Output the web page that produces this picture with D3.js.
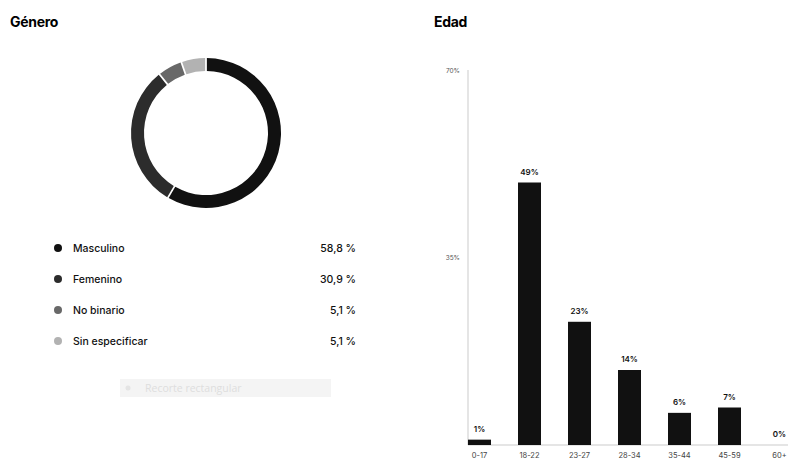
<!DOCTYPE html>
<html>
<head>
<meta charset="utf-8">
<script src="https://cdn.jsdelivr.net/npm/d3@7"></script>
<style>
  body { margin: 0; background: white; }
  text { font-family: Inter, "DejaVu Sans", sans-serif; }
</style>
</head>
<body>
<div id="chart"></div>
<script>
// Data
var genero_labels = ["Masculino", "Femenino", "No binario", "Sin especificar"]
var genero_values = [58.8, 30.9, 5.1, 5.1]
var genero_text = ["58,8 %", "30,9 %", "5,1 %", "5,1 %"]
var genero_colors = ["#111111", "#2c2c2c", "#686868", "#b2b2b2"]

var edad_labels = ["0-17", "18-22", "23-27", "28-34", "35-44", "45-59", "60+"]
var edad_values = [1, 49, 23, 14, 6, 7, 0]
var edad_ticks = [35, 70]

var width = 788
var height = 460

var svg = d3.select('#chart')
  .append('svg')
  .attr('width', width)
  .attr('height', height)
  .style("background-color", "white")

// Titles
svg.append("text")
  .attr("x", 10).attr("y", 27)
  .style("font-size", "14px")
  .style("font-weight", "bold")
  .style("letter-spacing", "-0.3px")
  .text("Género")

svg.append("text")
  .attr("x", 434).attr("y", 27)
  .style("font-size", "14px")
  .style("font-weight", "bold")
  .style("letter-spacing", "-0.3px")
  .text("Edad")

// Donut
var pie = d3.pie().sort(null).padAngle(0.018)
var arc = d3.arc().innerRadius(62).outerRadius(75)

var donut = svg.append("g")
  .attr("transform", "translate(206,133)")

donut.selectAll("path")
  .data(pie(genero_values))
  .enter()
  .append("path")
  .attr("d", arc)
  .style("fill", function (d, i) { return genero_colors[i] })

// Legend
var y_legend = d3.scalePoint()
  .domain(genero_labels)
  .range([248, 341])

var legend = svg.selectAll(".legend")
  .data(genero_labels)
  .enter().append("g")
  .attr("transform", function (d) { return "translate(0," + y_legend(d) + ")" })

legend.append("circle")
  .attr("cx", 58).attr("cy", 0).attr("r", 4)
  .style("fill", function (d, i) { return genero_colors[i] })

legend.append("text")
  .attr("x", 73).attr("dy", "0.35em")
  .style("font-size", "10.5px")
  .style("font-weight", "500")
  .style("fill", "#111")
  .text(function (d) { return d })

legend.append("text")
  .attr("x", 356).attr("dy", "0.35em")
  .style("text-anchor", "end")
  .style("font-size", "10.5px")
  .style("font-weight", "500")
  .style("fill", "#111")
  .text(function (d, i) { return genero_text[i] })

// Faded "Recorte rectangular" box
svg.append("rect")
  .attr("x", 120).attr("y", 379)
  .attr("width", 211).attr("height", 18)
  .style("fill", "#f4f4f4")
svg.append("circle")
  .attr("cx", 128).attr("cy", 388).attr("r", 2.5)
  .style("fill", "#e4e4e4")
svg.append("text")
  .attr("x", 145).attr("y", 392)
  .style("font-size", "10.5px")
  .style("font-family", "'Open Sans', sans-serif")
  .style("fill", "#dedede")
  .text("Recorte rectangular")

// Bar chart
var x_scale = d3.scaleBand()
  .domain(edad_labels)
  .range([468, 791])
  .paddingInner(0.54)
  .paddingOuter(0)

var y_scale = d3.scaleLinear()
  .domain([0, 70])
  .range([445, 70])

// axes lines
svg.append("line")
  .attr("x1", 468).attr("x2", 468)
  .attr("y1", y_scale(70)).attr("y2", y_scale(0))
  .style("stroke", "#dcdcdc").style("stroke-width", 1.5)
svg.append("line")
  .attr("x1", 468).attr("x2", 788)
  .attr("y1", y_scale(0)).attr("y2", y_scale(0))
  .style("stroke", "#dcdcdc").style("stroke-width", 1.5)

var yAxis = d3.axisLeft(y_scale)
  .tickValues(edad_ticks)
  .tickSize(0)
  .tickPadding(8)
  .tickFormat(function (d) { return d + "%" })

var gy = svg.append("g")
  .attr("transform", "translate(468,0)")
  .call(yAxis)
gy.select(".domain").remove()
gy.selectAll("text")
  .style("font-size", "6.5px")
  .style("fill", "#555")
  .style("font-family", "Inter, sans-serif")

var xAxis = d3.axisBottom(x_scale)
  .tickSize(0)
  .tickPadding(8)
var gx = svg.append("g")
  .attr("transform", "translate(0,445)")
  .call(xAxis)
gx.select(".domain").remove()
gx.selectAll("text")
  .style("font-size", "7.5px")
  .style("fill", "#444")
  .style("font-family", "Inter, sans-serif")

var bars = svg.selectAll(".bar")
  .data(edad_values)
  .enter()
  .append("g")

bars.append("rect")
  .attr("x", function (d, i) { return x_scale(edad_labels[i]) })
  .attr("y", function (d) { return y_scale(d) })
  .attr("width", x_scale.bandwidth())
  .attr("height", function (d) { return y_scale(0) - y_scale(d) })
  .style("fill", "#111")

bars.append("text")
  .attr("x", function (d, i) { return x_scale(edad_labels[i]) + x_scale.bandwidth() / 2 })
  .attr("y", function (d) { return y_scale(d) - 8 })
  .style("text-anchor", "middle")
  .style("font-size", "8px")
  .style("font-weight", "600")
  .style("fill", "#111")
  .text(function (d) { return d + "%" })
</script>
</body>
</html>
